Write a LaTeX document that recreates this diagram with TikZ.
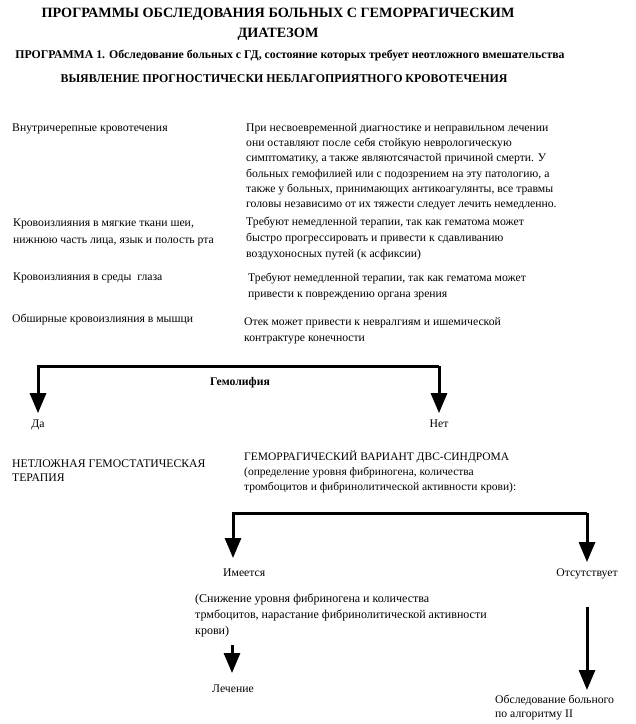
\documentclass[tikz,border=0pt]{standalone}
\usepackage{fontspec}
\setmainfont{Liberation Serif}
\usetikzlibrary{arrows.meta}
\begin{document}
\begin{tikzpicture}[x=1pt,y=-1pt,
  txt/.style={anchor=base west, inner sep=0pt, align=left, font=\fontsize{11.7}{15.2}\selectfont},
  ctr/.style={anchor=base, inner sep=0pt, font=\fontsize{11.7}{15.2}\selectfont},
  ttl/.style={anchor=base, inner sep=0pt, font=\bfseries\fontsize{14.2}{17}\selectfont},
  arr/.style={line width=3pt, -{Triangle[width=16pt,length=20pt]}}]
\useasboundingbox (0,0) rectangle (636,724);
\fill[white] (0,0) rectangle (636,724);
% headings (single lines, anchored at their baseline)
\node[ttl] (t1) at (278,17) {ПРОГРАММЫ ОБСЛЕДОВАНИЯ БОЛЬНЫХ С ГЕМОРРАГИЧЕСКИМ};
\node[ttl] (t2) at (278,37) {ДИАТЕЗОМ};
\node[ctr, font=\bfseries\fontsize{11.8}{13}\selectfont] (t3) at (290,58) {ПРОГРАММА 1. Обследование больных с ГД, состояние которых требует неотложного  вмешательства};
\node[ctr, font=\bfseries\fontsize{11.9}{14}\selectfont] (t4) at (284,82) {ВЫЯВЛЕНИЕ ПРОГНОСТИЧЕСКИ НЕБЛАГОПРИЯТНОГО КРОВОТЕЧЕНИЯ};
% table (multi-line nodes are anchored at the baseline of their last line)
\node[txt] (l1) at (12,131) {Внутричерепные кровотечения};
\node[txt] (r1) at (246,207.5) {При несвоевременной диагностике и неправильном лечении\\
они оставляют после себя стойкую неврологическую\\
симптоматику, а также являютсячастой причиной смерти. У\\
больных гемофилией или с подозрением на эту патологию, а\\
также у больных, принимающих антикоагулянты, все травмы\\
головы независимо от их тяжести следует лечить немедленно.};
\node[txt, font=\fontsize{11.7}{17}\selectfont] (l2) at (13,243) {Кровоизлияния в мягкие ткани шеи,\\нижнюю часть лица, язык и полость рта};
\node[txt, font=\fontsize{11.7}{16}\selectfont] (r2) at (246,257) {Требуют немедленной терапии, так как гематома может\\
быстро прогрессировать и привести к сдавливанию\\
воздухоносных путей (к асфиксии)};
\node[txt] (l3) at (13,280) {Кровоизлияния в среды\ \ глаза};
\node[txt, font=\fontsize{11.7}{16}\selectfont] (r3) at (248,297) {Требуют немедленной терапии, так как гематома может\\
привести к повреждению органа зрения};
\node[txt] (l4) at (12,322) {Обширные кровоизлияния в мышци};
\node[txt, font=\fontsize{11.7}{16}\selectfont] (r4) at (244,341) {Отек может привести к невралгиям и ишемической\\
контрактуре конечности};
% first branch
\coordinate (c1) at (439,366);
\node[ctr, font=\bfseries\fontsize{11.7}{14}\selectfont] (gem) at (240,385) {Гемолифия};
\node[ctr] (da) at (38,427) {Да};
\node[ctr] (net) at (439,427) {Нет};
\draw[arr, shorten >=6pt] (c1) -| (da.north);
\draw[arr, shorten >=6pt] (c1) -- (net.north);
\node[txt, font=\fontsize{11.7}{14}\selectfont] (neot) at (12,481) {НЕТЛОЖНАЯ ГЕМОСТАТИЧЕСКАЯ\\ТЕРАПИЯ};
\node[txt, font=\fontsize{11.5}{15}\selectfont] (dvs) at (244,490) {ГЕМОРРАГИЧЕСКИЙ ВАРИАНТ ДВС-СИНДРОМА\\
(определение уровня фибриногена, количества\\
тромбоцитов и фибринолитической активности крови):};
% second branch
\coordinate (c2) at (587,513);
\coordinate (c2L) at (233,558);
\node[txt] (imeet) at (223,576) {Имеется};
\node[ctr] (ots) at (587,576) {Отсутствует};
\draw[arr] (c2) -| (c2L);
\draw[arr, shorten >=6pt] (c2) -- (ots.north);
\node[txt, font=\fontsize{12}{16}\selectfont] (sniz) at (195,634) {(Снижение уровня фибриногена и количества\\
трмбоцитов, нарастание фибринолитической активности\\
крови)};
\coordinate (s1) at (232,645);
\coordinate (s2) at (232,673);
\draw[arr] (s1) -- (s2);
\node[txt] (lech) at (212,692) {Лечение};
\coordinate (o1) at (587,607);
\coordinate (o2) at (587,690);
\draw[arr] (o1) -- (o2);
\node[txt, font=\fontsize{11.7}{14}\selectfont] (obsl) at (495,717) {Обследование больного\\по алгоритму II};
\end{tikzpicture}
\end{document}
